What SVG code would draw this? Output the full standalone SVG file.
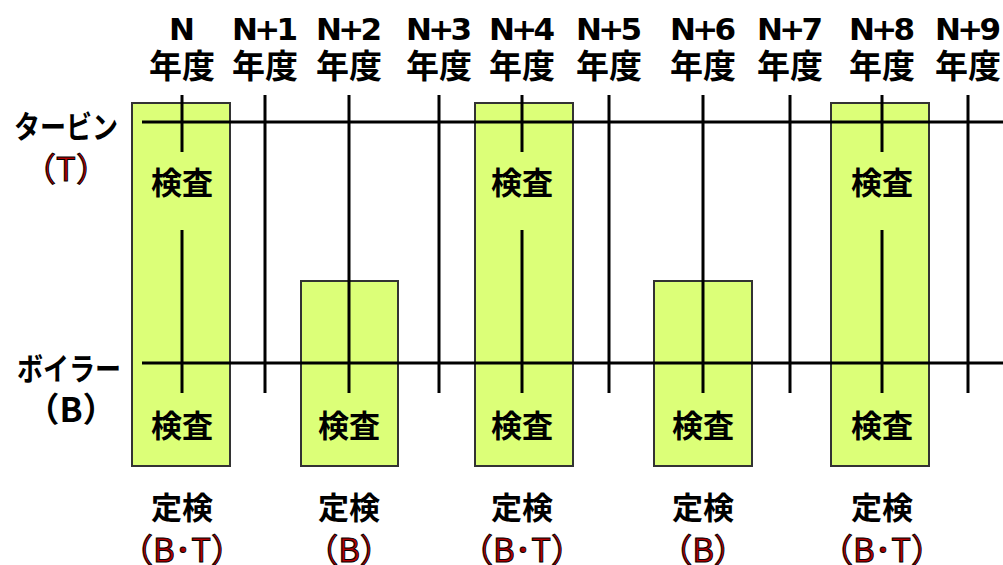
<svg xmlns="http://www.w3.org/2000/svg" width="1003" height="565" viewBox="0 0 1003 565">
<style>
.box{fill:#dcff78;stroke:#333;stroke-width:2}
.ln{stroke:#000;stroke-width:3;fill:none}
.hdr{font-family:"DejaVu Sans","Noto Sans CJK JP",sans-serif;font-weight:bold;font-size:31px;fill:#000;text-anchor:middle}
.yr{font-family:"Noto Sans CJK JP",sans-serif;font-weight:bold;font-size:33px;fill:#000;text-anchor:middle}
.lbl{font-family:"Noto Sans CJK JP",sans-serif;font-weight:bold;font-size:31px;fill:#000;text-anchor:middle}
.red{font-family:"Noto Sans CJK JP",sans-serif;font-weight:normal;font-size:33px;fill:#b00000;stroke:#000;stroke-width:1;text-anchor:middle}
.bld{font-family:"Noto Sans CJK JP",sans-serif;font-weight:bold;font-size:34px;fill:#000;text-anchor:middle}
</style>
<rect width="1003" height="565" fill="#fff"/>
<g id="boxes">
<rect id="box-n" class="box" x="132" y="103" width="98" height="363"/>
<rect id="box-n2" class="box" x="301" y="281" width="97" height="185"/>
<rect id="box-n4" class="box" x="475" y="103" width="98" height="363"/>
<rect id="box-n6" class="box" x="654" y="281" width="98" height="185"/>
<rect id="box-n8" class="box" x="831" y="103" width="98" height="363"/>
</g>
<g id="connectors">
<line class="ln" x1="142" y1="122" x2="1003" y2="122"/>
<line class="ln" x1="142" y1="363" x2="1003" y2="363"/>
<line class="ln" x1="182" y1="95" x2="182" y2="152"/>
<line class="ln" x1="182" y1="230" x2="182" y2="393"/>
<line class="ln" x1="265" y1="95" x2="265" y2="393"/>
<line class="ln" x1="349" y1="95" x2="349" y2="393"/>
<line class="ln" x1="439" y1="95" x2="439" y2="393"/>
<line class="ln" x1="522" y1="95" x2="522" y2="152"/>
<line class="ln" x1="522" y1="230" x2="522" y2="393"/>
<line class="ln" x1="609" y1="95" x2="609" y2="393"/>
<line class="ln" x1="703" y1="95" x2="703" y2="393"/>
<line class="ln" x1="790" y1="95" x2="790" y2="393"/>
<line class="ln" x1="882" y1="95" x2="882" y2="152"/>
<line class="ln" x1="882" y1="230" x2="882" y2="393"/>
<line class="ln" x1="968" y1="95" x2="968" y2="393"/>
</g>
<g id="header">
<text class="hdr" x="182" y="40">N</text>
<text class="hdr" x="265" y="40" textLength="66">N+1</text>
<text class="hdr" x="349" y="40" textLength="66">N+2</text>
<text class="hdr" x="439" y="40" textLength="66">N+3</text>
<text class="hdr" x="522" y="40" textLength="66">N+4</text>
<text class="hdr" x="609" y="40" textLength="66">N+5</text>
<text class="hdr" x="703" y="40" textLength="66">N+6</text>
<text class="hdr" x="790" y="40" textLength="66">N+7</text>
<text class="hdr" x="882" y="40" textLength="66">N+8</text>
<text class="hdr" x="968" y="40" textLength="66">N+9</text>
<text class="yr" x="182" y="78">年度</text>
<text class="yr" x="265" y="78">年度</text>
<text class="yr" x="349" y="78">年度</text>
<text class="yr" x="439" y="78">年度</text>
<text class="yr" x="522" y="78">年度</text>
<text class="yr" x="609" y="78">年度</text>
<text class="yr" x="703" y="78">年度</text>
<text class="yr" x="790" y="78">年度</text>
<text class="yr" x="882" y="78">年度</text>
<text class="yr" x="968" y="78">年度</text>
</g>
<g id="row-turbine">
<text class="yr" x="66" y="138" style="font-size:31px" textLength="104" lengthAdjust="spacingAndGlyphs">タービン</text>
<text class="red" x="66" y="181">（T）</text>
</g>
<g id="row-boiler">
<text class="yr" x="69" y="380" style="font-size:31px" textLength="104" lengthAdjust="spacingAndGlyphs">ボイラー</text>
<text class="bld" x="71" y="422">（B）</text>
</g>
<g id="inspections">
<text class="lbl" x="182" y="194">検査</text>
<text class="lbl" x="522" y="194">検査</text>
<text class="lbl" x="882" y="194">検査</text>
<text class="lbl" x="182" y="437">検査</text>
<text class="lbl" x="349" y="437">検査</text>
<text class="lbl" x="522" y="437">検査</text>
<text class="lbl" x="703" y="437">検査</text>
<text class="lbl" x="882" y="437">検査</text>
</g>
<g id="footer">
<text class="lbl" x="182" y="519">定検</text>
<text class="lbl" x="349" y="519">定検</text>
<text class="lbl" x="522" y="519">定検</text>
<text class="lbl" x="703" y="519">定検</text>
<text class="lbl" x="882" y="519">定検</text>
<text class="red" x="182" y="562">（B･T）</text>
<text class="red" x="349" y="562">（B）</text>
<text class="red" x="522" y="562">（B･T）</text>
<text class="red" x="703" y="562">（B）</text>
<text class="red" x="882" y="562">（B･T）</text>
</g>
</svg>
